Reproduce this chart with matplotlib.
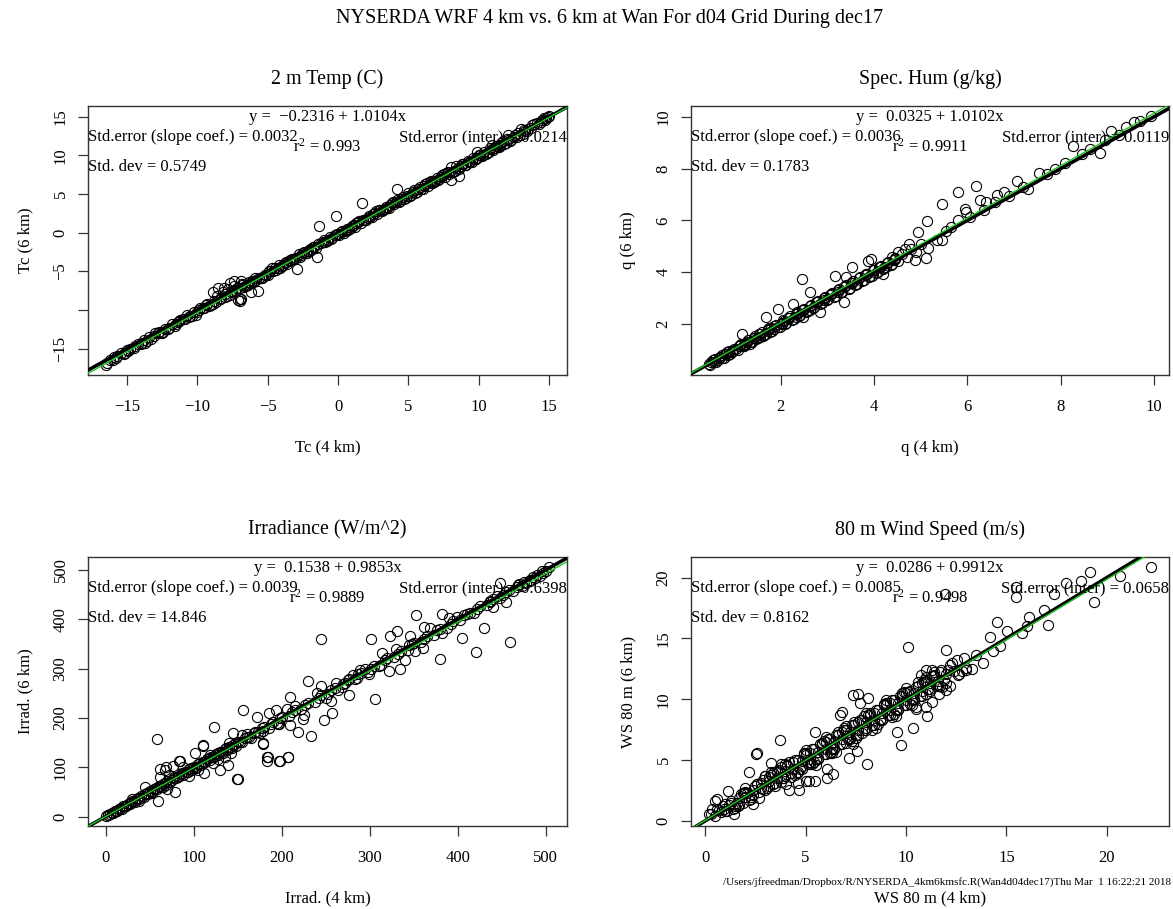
import matplotlib
matplotlib.use("Agg")
import matplotlib.pyplot as plt
from matplotlib.ticker import FixedLocator, FixedFormatter

plt.rcParams['font.family'] = ['Liberation Serif', 'DejaVu Serif']
plt.rcParams['mathtext.fontset'] = 'custom'
plt.rcParams['mathtext.rm'] = 'Liberation Serif'
plt.rcParams['mathtext.it'] = 'Liberation Serif:italic'
plt.rcParams['axes.unicode_minus'] = True

# ---------------------------------------------------------------- 2 m temperature (C)
temp_4km = [
    -16.5, -16.2, -16.0, -15.7, -15.4, -15.1, -14.8, -14.5, -14.2, -13.9,
    -13.6, -13.4, -13.1, -12.8, -12.5, -12.3, -12.0, -11.8, -11.5, -11.2,
    -11.0, -10.7, -10.5, -10.2, -10.0, -9.8, -9.5, -9.3, -9.0, -8.8,
    -8.6, -8.4, -8.2, -8.0, -7.8, -7.6, -7.4, -7.2, -7.0, -6.8,
    -8.9, -8.5, -8.1, -7.7, -7.4, -6.9, -6.8, -7.0, -7.0, -6.9,
    -7.1, -6.2, -5.7, -6.6, -6.4, -6.2, -6.0, -5.8, -5.6, -5.4,
    -5.2, -5.0, -4.8, -4.6, -4.4, -4.2, -4.0, -3.8, -3.6, -3.4,
    -3.2, -3.0, -2.8, -2.9, -2.6, -2.4, -2.2, -2.0, -1.8, -1.6,
    -1.5, -1.35, -1.2, -1.0, -0.8, -0.6, -0.4, -0.2, -0.16, 0.0,
    0.2, 0.4, 0.6, 0.8, 1.0, 1.2, 1.4, 1.6, 1.73, 1.8,
    2.0, 2.2, 2.4, 2.6, 2.8, 3.0, 3.2, 3.4, 3.6, 3.8,
    4.0, 4.2, 4.21, 4.4, 4.6, 4.8, 5.0, 5.2, 5.4, 5.6,
    5.8, 6.0, 6.2, 6.4, 6.6, 6.8, 7.0, 7.2, 7.4, 7.6,
    7.8, 8.0, 8.0, 8.2, 8.4, 8.58, 8.6, 8.8, 9.0, 9.2,
    9.4, 9.6, 9.8, 10.0, 10.2, 10.4, 10.6, 10.8, 11.0, 11.2,
    11.4, 11.6, 11.8, 12.0, 12.3, 12.6, 12.9, 13.2, 13.5, 13.8,
    14.1, 14.4, 14.6, 14.8, 15.0, 14.9, 13.0, 12.1, 9.9, 6.7,
    -15.9, -15.2, -14.4, -13.7, -13.0, -12.4, -11.6, -10.9, -10.1, -9.4,
    -8.7, -8.0, -7.3, -6.5, -5.9, -5.3, -4.7, -4.1, -3.5, -2.7,
    -2.1, -1.4, -0.7, 0.1, 0.7, 1.3, 2.1, 2.7, 3.3, 3.9,
    4.5, 5.1, 5.7, 6.3, 6.9, 7.5, 8.1, 8.7, 9.3, 9.9,
    10.5, 11.1, 11.7, 12.2, 12.8, 13.4, 13.9, 14.5, 10.9, 11.5,
    -16.4, -15.8, -15.0, -14.0, -13.3, -12.7, -12.1, -11.3, -10.6, -9.9,
    -9.2, -8.4, -7.9, -7.5, -6.7, -6.1, -5.5, -4.9, -4.3, -3.7,
    -3.1, -2.5, -1.9, -1.1, -0.5, 0.3, 0.9, 1.5, 2.3, 2.9,
    3.5, 4.1, 4.7, 5.3, 5.9, 6.5, 7.1, 7.7, 8.3, 8.9,
    9.5, 10.1, 10.7, 11.3, 11.9, 12.5, 13.1, 13.7, 14.3, 14.7,
    -14.9, -13.8, -12.6, -11.4, -10.4, -9.6, -8.9, -8.3, -7.7, -6.3,
    -5.1, -4.5, -3.9, -3.3, -2.3, -1.7, -0.9, -0.1, 0.5, 1.1,
    1.9, 2.5, 3.1, 3.7, 4.3, 4.9, 5.5, 6.1, 6.7, 7.3,
    7.9, 8.5, 9.1, 9.7, 10.3, 10.9, 11.5, 12.1, 12.7, 13.3,
]
temp_6km = [
    -17.1, -16.5, -16.4, -15.9, -15.6, -15.5, -15.0, -14.9, -14.4, -14.3,
    -14.0, -13.5, -13.4, -12.9, -12.9, -12.4, -12.3, -11.8, -11.8, -11.3,
    -11.1, -10.6, -10.8, -10.2, -10.3, -9.7, -9.7, -9.2, -9.3, -8.8,
    -8.2, -8.5, -7.7, -7.9, -7.3, -7.6, -6.9, -7.2, -7.1, -6.6,
    -7.6, -7.1, -7.1, -6.5, -6.3, -6.3, -6.7, -8.6, -8.8, -8.5,
    -8.7, -7.6, -7.5, -6.9, -6.7, -6.5, -6.3, -6.1, -5.9, -5.8,
    -5.5, -5.4, -5.0, -4.9, -4.8, -4.2, -4.3, -3.9, -4.1, -3.5,
    -3.4, -3.3, -2.8, -4.7, -2.9, -2.5, -2.6, -2.1, -1.8, -2.0,
    -3.1, 0.9, -1.3, -1.0, -1.1, -0.6, -0.7, -0.3, 2.2, -0.2,
    0.1, 0.0, 0.5, 0.5, 0.9, 0.8, 1.4, 1.3, 3.8, 1.7,
    1.7, 2.2, 2.0, 2.5, 2.4, 2.9, 3.0, 3.3, 3.2, 3.8,
    3.7, 4.2, 5.6, 4.1, 4.6, 4.5, 5.1, 4.9, 5.5, 5.3,
    5.9, 5.7, 6.3, 6.1, 6.7, 6.5, 7.1, 6.9, 7.5, 7.2,
    7.9, 8.5, 6.8, 8.0, 8.6, 7.4, 8.3, 8.9, 8.7, 9.3,
    9.2, 9.7, 9.5, 10.1, 9.9, 10.5, 10.3, 10.9, 10.7, 11.2,
    11.1, 11.6, 11.5, 12.1, 12.0, 12.7, 12.6, 13.3, 13.4, 13.9,
    14.2, 14.3, 14.9, 14.8, 15.1, 15.0, 13.4, 12.7, 10.5, 6.4,
    -16.1, -15.7, -14.6, -14.2, -13.0, -12.8, -12.0, -11.2, -10.6, -9.3,
    -9.0, -8.3, -7.4, -6.8, -5.8, -5.7, -4.6, -4.6, -3.6, -3.1,
    -2.4, -1.5, -0.9, -0.3, 0.4, 1.2, 1.9, 2.8, 3.1, 4.0,
    4.4, 4.8, 5.6, 6.4, 6.7, 7.6, 7.8, 8.6, 9.1, 9.7,
    10.2, 11.0, 11.8, 11.9, 12.9, 13.2, 14.0, 14.6, 11.3, 11.3,
    -16.8, -16.2, -15.1, -14.4, -13.7, -12.8, -12.4, -11.4, -10.9, -10.0,
    -9.5, -8.5, -8.2, -7.5, -7.0, -6.2, -5.8, -5.0, -4.6, -3.8,
    -3.4, -2.6, -2.2, -1.2, -0.8, 0.2, 0.6, 1.5, 2.0, 2.9,
    3.2, 4.0, 4.4, 5.3, 5.6, 6.5, 6.8, 7.7, 8.0, 8.9,
    9.2, 10.0, 10.4, 11.2, 11.6, 12.4, 12.8, 13.6, 14.0, 14.6,
    -15.3, -13.9, -12.9, -11.5, -10.7, -9.7, -9.2, -8.4, -8.0, -6.4,
    -5.4, -4.6, -4.2, -3.4, -2.6, -1.8, -1.2, -0.2, 0.2, 1.0,
    1.6, 2.4, 2.8, 3.6, 4.0, 4.8, 5.2, 6.0, 6.4, 7.2,
    7.6, 8.4, 8.8, 9.6, 10.0, 10.8, 11.2, 12.0, 12.4, 13.2,
]

# ---------------------------------------------------------------- specific humidity (g/kg)
q_4km = [
    0.46, 0.55, 0.62, 0.70, 0.78, 0.85, 0.92, 1.00, 1.08, 1.15,
    1.22, 1.30, 1.38, 1.45, 1.52, 1.60, 1.68, 1.75, 1.82, 1.90,
    1.98, 2.05, 2.12, 2.20, 2.28, 2.35, 2.42, 2.50, 2.58, 2.65,
    2.72, 2.80, 2.88, 2.95, 3.02, 3.10, 3.18, 3.25, 3.32, 3.40,
    3.48, 3.55, 3.62, 3.70, 3.78, 3.85, 3.92, 4.00, 4.08, 4.15,
    4.22, 4.30, 4.38, 4.45, 4.52, 4.60, 4.70, 4.80, 4.90, 5.00,
    0.50, 0.66, 0.80, 0.95, 1.12, 1.26, 1.42, 1.56, 1.72, 1.86,
    2.02, 2.16, 2.32, 2.46, 2.62, 2.76, 2.92, 3.06, 3.22, 3.36,
    1.18, 1.69, 1.94, 2.27, 2.45, 2.63, 2.85, 2.49, 3.16, 3.35,
    3.40, 3.54, 3.87, 3.94, 4.20, 4.38, 4.52, 4.67, 4.74, 4.87,
    4.95, 5.11, 5.14, 5.16, 5.36, 5.45, 5.45, 5.54, 5.80, 5.80,
    5.94, 5.98, 6.18, 6.27, 6.41, 6.63, 6.78, 7.07, 7.29, 7.54,
    7.87, 8.27, 8.63, 8.85, 9.07, 9.40, 9.58, 9.94, 5.65, 6.05,
    6.35, 6.60, 6.90, 7.20, 7.70, 8.10, 8.45, 8.95, 9.25, 9.70,
    3.50, 3.64, 3.80, 3.96, 4.10, 4.26, 4.42, 1.35, 1.62, 0.75,
    0.48, 0.58, 0.68, 0.74, 0.82, 0.88, 0.96, 1.04, 1.10, 1.20,
    1.28, 1.34, 1.42, 1.48, 1.56, 1.64, 1.72, 1.78, 1.86, 1.94,
    2.02, 2.10, 2.18, 2.24, 2.32, 2.40, 2.48, 2.54, 2.62, 2.70,
    2.78, 2.84, 2.92, 3.00, 3.08, 3.14, 3.22, 3.30, 3.38, 3.46,
    3.52, 3.60, 3.68, 3.74, 3.82, 3.90, 3.98, 4.04, 4.12, 4.20,
    4.28, 4.36, 4.44, 0.60, 0.90, 1.24, 1.54, 1.80, 2.08, 2.38,
]
q_6km = [
    0.45, 0.60, 0.55, 0.74, 0.70, 0.92, 0.85, 1.05, 1.00, 1.22,
    1.15, 1.40, 1.30, 1.55, 1.45, 1.68, 1.60, 1.85, 1.75, 1.95,
    1.90, 2.15, 2.05, 2.30, 2.20, 2.45, 2.35, 2.60, 2.50, 2.75,
    2.65, 2.90, 2.80, 3.05, 2.95, 3.20, 3.10, 3.35, 3.25, 3.50,
    3.40, 3.65, 3.55, 3.80, 3.70, 3.95, 3.85, 4.10, 4.00, 4.25,
    4.15, 4.40, 4.30, 4.55, 4.45, 4.70, 4.60, 4.90, 4.80, 5.10,
    0.52, 0.62, 0.86, 0.93, 1.18, 1.22, 1.48, 1.50, 1.80, 1.82,
    2.00, 2.25, 2.28, 2.55, 2.56, 2.84, 2.92, 3.12, 3.22, 3.45,
    1.61, 2.28, 2.58, 2.77, 3.74, 3.23, 2.45, 2.26, 3.87, 2.84,
    3.81, 4.19, 4.45, 4.52, 3.94, 4.58, 4.77, 4.90, 5.10, 4.48,
    5.57, 4.54, 5.96, 4.94, 5.23, 6.62, 5.23, 5.61, 7.10, 6.00,
    6.45, 6.32, 7.32, 6.80, 6.71, 6.99, 7.10, 7.51, 7.23, 7.83,
    8.00, 8.86, 8.74, 8.61, 9.46, 9.61, 9.79, 10.03, 5.75, 6.15,
    6.40, 6.70, 6.95, 7.30, 7.80, 8.20, 8.55, 9.10, 9.30, 9.85,
    3.60, 3.55, 3.90, 3.86, 4.20, 4.20, 4.46, 1.25, 1.55, 0.80,
    0.42, 0.55, 0.70, 0.68, 0.84, 0.80, 0.98, 1.02, 1.14, 1.16,
    1.32, 1.30, 1.46, 1.42, 1.62, 1.58, 1.76, 1.70, 1.92, 1.88,
    2.06, 2.02, 2.24, 2.16, 2.38, 2.32, 2.54, 2.46, 2.70, 2.62,
    2.86, 2.76, 3.00, 2.92, 3.16, 3.06, 3.30, 3.22, 3.46, 3.36,
    3.60, 3.50, 3.76, 3.66, 3.92, 3.82, 4.08, 3.96, 4.22, 4.12,
    4.36, 4.28, 4.50, 0.66, 0.96, 1.20, 1.60, 1.86, 2.12, 2.44,
]

# ---------------------------------------------------------------- irradiance (W/m^2)
irr_4km = [
    0, 2, 5, 8, 10, 13, 15, 18, 20, 23,
    25, 28, 30, 33, 35, 38, 40, 43, 45, 48,
    50, 53, 55, 58, 60, 63, 65, 68, 70, 73,
    75, 78, 80, 83, 85, 88, 90, 93, 95, 98,
    100, 103, 105, 108, 110, 113, 115, 118, 120, 123,
    125, 128, 130, 133, 135, 138, 140, 143, 145, 148,
    150, 155, 160, 165, 170, 175, 180, 185, 190, 195,
    200, 208, 215, 222, 230, 238, 245, 252, 260, 268,
    275, 283, 290, 298, 305, 313, 320, 328, 335, 343,
    350, 358, 365, 373, 380, 388, 395, 403, 410, 418,
    425, 433, 440, 448, 455, 463, 470, 478, 485, 493,
    500, 504, 497, 490, 482, 473, 467, 458, 445, 437,
    244.6, 58.6, 301.4, 352.9, 382.1, 459.0, 421.2, 379.4, 430.3, 404.9,
    306.3, 230.4, 155.7, 123.1, 149.6, 183.7, 196.7, 206.9, 183.0, 233.1,
    248.2, 257.0, 219.0, 209.6, 209.6, 178.5, 171.7, 196.7, 224.7, 275.9,
    264.5, 321.4, 333.9, 323.3, 331.0, 313.9, 340.4, 361.2, 360.9, 351.8,
    447.7, 440.1, 455.3, 414.3, 399.2, 389.6, 368.8, 382.1, 346.1, 344.2,
    288.4, 275.9, 298.6, 281.2, 255.8, 244.8, 193.6, 195.8, 206.5, 186.0,
    145.0, 179.2, 154.6, 110.9, 101.5, 83.6, 61.7, 68.5, 129.9, 138.5,
    76.8, 59.1, 150.4, 79.1, 84.3, 110.4, 179.1, 184.3, 198.3, 207.0,
    62, 67, 72, 65, 70, 45, 52, 38, 30, 88,
    95, 105, 112, 118, 122, 128, 135, 140, 142, 160,
    215, 225, 240, 250, 262, 270, 285, 295, 310, 330,
    3, 7, 12, 17, 22, 27, 32, 37, 42, 47,
    52, 57, 62, 67, 72, 77, 82, 87, 92, 97,
    102, 107, 112, 117, 122, 127, 132, 137, 142, 147,
    152, 158, 163, 168, 173, 178, 188, 198, 212, 226,
    242, 256, 272, 287, 302, 317, 332, 348, 362, 377,
    392, 407, 422, 437, 452, 468, 482, 496, 488, 475,
]
irr_6km = [
    1, 3, 6, 7, 11, 12, 16, 15, 21, 22,
    26, 25, 31, 30, 36, 35, 41, 40, 46, 45,
    51, 50, 56, 55, 61, 60, 66, 64, 72, 70,
    74, 80, 79, 82, 86, 85, 91, 90, 96, 95,
    101, 99, 106, 104, 111, 110, 116, 114, 121, 120,
    126, 124, 131, 129, 136, 134, 141, 139, 146, 144,
    151, 152, 161, 160, 171, 170, 181, 180, 191, 190,
    201, 204, 216, 218, 231, 233, 246, 248, 261, 263,
    276, 278, 291, 293, 306, 308, 321, 323, 336, 338,
    351, 353, 366, 368, 381, 383, 396, 398, 411, 413,
    426, 428, 441, 443, 456, 458, 471, 473, 486, 488,
    497, 506, 494, 490, 478, 468, 466, 460, 448, 435,
    359.7, 157.0, 359.7, 408.5, 410.5, 354.0, 333.9, 319.0, 382.7, 361.0,
    239.0, 274.9, 215.3, 181.4, 75.6, 113.6, 113.6, 120.3, 121.7, 162.4,
    194.9, 210.5, 171.2, 242.4, 184.7, 148.8, 201.7, 186.8, 198.3, 245.8,
    255.9, 295.3, 300.0, 366.4, 376.6, 331.9, 318.3, 383.4, 342.7, 336.0,
    472.9, 424.0, 435.6, 411.9, 405.1, 401.7, 381.4, 371.2, 365.8, 347.5,
    298.0, 278.3, 288.5, 286.4, 234.2, 264.1, 215.3, 188.1, 218.6, 209.8,
    169.2, 173.2, 164.4, 144.1, 128.5, 113.6, 96.6, 101.4, 94.6, 105.4,
    103.4, 32.4, 76.4, 50.7, 113.5, 143.9, 147.3, 121.6, 113.5, 120.3,
    80, 95, 85, 60, 55, 60, 48, 32, 35, 100,
    82, 95, 88, 125, 108, 116, 120, 150, 128, 168,
    225, 205, 250, 240, 270, 268, 280, 300, 305, 340,
    4, 8, 11, 18, 21, 28, 31, 38, 41, 48,
    51, 58, 61, 68, 71, 78, 81, 88, 91, 98,
    101, 108, 111, 118, 121, 128, 131, 138, 141, 148,
    151, 159, 162, 169, 172, 179, 187, 199, 211, 227,
    240, 257, 270, 288, 300, 318, 330, 349, 360, 378,
    390, 408, 420, 438, 450, 469, 480, 497, 484, 476,
]

# ---------------------------------------------------------------- 80 m wind speed (m/s)
ws_4km = [
    0.3, 0.5, 0.7, 0.9, 1.1, 1.3, 1.5, 1.7, 1.9, 2.1,
    2.3, 2.5, 2.7, 2.9, 3.1, 3.3, 3.5, 3.7, 3.9, 4.1,
    4.3, 4.5, 4.7, 4.9, 5.1, 5.3, 5.5, 5.7, 5.9, 6.1,
    6.3, 6.5, 6.7, 6.9, 7.1, 7.3, 7.5, 7.7, 7.9, 8.1,
    8.3, 8.5, 8.7, 8.9, 9.1, 9.3, 9.5, 9.7, 9.9, 10.1,
    10.3, 10.5, 10.7, 10.9, 11.1, 11.3, 11.5, 11.7, 11.9, 12.1,
    0.8, 1.2, 1.6, 2.0, 2.4, 2.8, 3.2, 3.6, 4.0, 4.4,
    4.8, 5.2, 5.6, 6.0, 6.4, 6.8, 7.2, 7.6, 8.0, 8.4,
    8.8, 9.2, 9.6, 10.0, 10.4, 10.8, 11.2, 11.6, 12.0, 12.4,
    1.0, 1.4, 1.8, 2.2, 2.6, 3.0, 3.4, 3.8, 4.2, 4.6,
    5.0, 5.4, 5.8, 6.2, 6.6, 7.0, 7.4, 7.8, 8.2, 8.6,
    9.0, 9.4, 9.8, 10.2, 10.6, 11.0, 11.4, 11.8, 12.2, 12.6,
    3.0, 3.5, 4.0, 4.5, 5.0, 5.5, 6.0, 6.5, 7.0, 7.5,
    8.0, 8.5, 9.0, 9.5, 10.0, 10.5, 11.0, 2.0, 2.7, 3.3,
    10.09, 11.99, 14.54, 15.01, 14.16, 15.77, 16.11, 16.02, 16.87, 17.09,
    15.48, 15.48, 17.38, 17.97, 18.70, 19.16, 19.38, 20.65, 22.21, 11.95,
    12.55, 12.97, 12.63, 13.30, 13.82, 14.33, 14.67, 7.63, 7.38, 8.09,
    7.72, 3.73, 2.54, 6.70, 6.82, 5.46, 8.05, 7.17, 9.75, 10.34,
    9.53, 11.07, 11.02, 10.51, 11.28, 11.62, 11.99, 12.21, 11.28, 11.75,
    11.02, 10.73, 6.39, 6.05, 5.48, 6.05, 4.58, 5.17, 7.55, 7.38,
    6.27, 4.69, 4.18, 4.04, 4.64, 2.36, 2.18, 2.58, 1.13, 1.42,
    0.18, 0.51, 0.36, 0.58, 0.95, 1.64, 1.96, 3.78, 3.27, 3.00,
    5.24, 5.00, 12.9, 13.5, 13.0, 12.3, 12.0, 11.4, 11.7, 12.8,
    0.6, 1.0, 1.3, 1.7, 2.0, 2.3, 2.6, 2.9, 3.2, 3.4,
    3.6, 3.9, 4.1, 4.3, 4.6, 4.8, 5.0, 5.2, 5.4, 5.6,
    5.8, 6.0, 6.2, 6.4, 6.6, 6.8, 7.0, 7.2, 7.4, 7.6,
    7.8, 8.0, 8.2, 8.4, 8.6, 8.8, 9.0, 9.2, 9.4, 9.6,
    9.8, 10.0, 10.2, 10.4, 10.6, 10.8, 11.0, 11.2, 11.4, 11.6,
    1.5, 1.9, 2.4, 2.8, 3.2, 3.6, 4.0, 4.4, 4.8, 5.2,
    5.6, 6.0, 6.4, 6.8, 7.2, 7.6, 8.0, 8.4, 8.8, 9.2,
    9.6, 10.0, 10.4, 10.8, 11.2, 3.8, 4.3, 4.9, 5.3, 5.9,
    6.3, 6.9, 7.3, 7.9, 8.3, 8.9, 9.3, 9.9, 10.3, 10.9,
]
ws_6km = [
    0.6, 0.4, 0.9, 1.2, 0.8, 1.5, 1.1, 1.9, 1.5, 2.3,
    1.8, 2.9, 2.4, 3.4, 2.7, 3.8, 3.1, 4.2, 3.5, 4.6,
    3.9, 5.0, 4.3, 5.5, 4.7, 5.9, 5.1, 6.3, 5.5, 6.7,
    5.9, 7.1, 6.3, 7.5, 6.7, 7.9, 7.1, 8.3, 7.5, 8.7,
    7.9, 9.1, 8.3, 9.5, 8.7, 9.9, 9.1, 10.3, 9.5, 10.6,
    9.9, 11.0, 10.3, 11.4, 10.8, 11.9, 11.1, 12.2, 11.6, 12.4,
    0.7, 1.3, 1.5, 2.0, 2.5, 2.7, 3.3, 3.5, 4.1, 4.3,
    4.9, 5.1, 5.7, 5.9, 6.5, 6.7, 7.3, 7.5, 8.1, 8.3,
    8.9, 9.1, 9.7, 9.9, 10.5, 10.7, 11.3, 11.5, 12.1, 12.3,
    1.4, 1.0, 2.2, 1.7, 3.0, 2.5, 3.9, 3.2, 4.8, 4.0,
    5.6, 4.8, 6.4, 5.6, 7.3, 6.4, 8.1, 7.2, 8.9, 8.0,
    9.7, 8.8, 10.5, 9.6, 11.4, 10.4, 12.0, 11.0, 12.8, 12.0,
    3.7, 2.9, 4.7, 3.8, 5.8, 4.6, 6.9, 5.7, 7.8, 6.8,
    8.9, 7.6, 9.9, 8.6, 10.9, 9.4, 11.8, 2.7, 1.9, 4.0,
    14.28, 14.06, 16.38, 15.64, 15.15, 15.42, 16.78, 15.99, 17.33, 16.13,
    18.42, 19.24, 18.64, 19.59, 19.73, 20.46, 17.96, 20.14, 20.87, 18.64,
    13.19, 12.37, 12.10, 12.50, 13.00, 14.00, 14.41, 10.46, 10.38, 10.10,
    9.73, 6.65, 5.53, 8.69, 8.96, 7.28, 4.66, 5.20, 6.24, 7.60,
    7.28, 8.61, 9.37, 9.18, 9.78, 10.41, 10.79, 11.06, 12.43, 12.43,
    12.37, 11.96, 3.84, 3.52, 3.30, 4.29, 3.92, 3.24, 5.75, 6.29,
    5.64, 2.57, 2.57, 3.03, 3.11, 1.41, 4.00, 5.54, 2.49, 0.54,
    0.59, 1.62, 0.95, 1.76, 0.95, 1.22, 2.30, 4.65, 4.73, 3.65,
    4.81, 3.24, 13.4, 13.6, 12.6, 13.0, 11.3, 12.2, 11.1, 12.3,
    1.0, 0.8, 1.6, 1.3, 2.4, 2.0, 3.0, 2.6, 3.6, 3.0,
    4.1, 3.5, 4.5, 3.9, 5.0, 4.3, 5.4, 4.7, 5.9, 5.1,
    6.3, 5.5, 6.7, 5.9, 7.1, 6.3, 7.5, 6.7, 7.9, 7.1,
    8.3, 7.5, 8.7, 7.9, 9.1, 8.3, 9.5, 8.7, 9.9, 9.1,
    10.3, 9.5, 10.7, 9.9, 11.1, 10.3, 11.5, 10.7, 11.9, 11.1,
    1.2, 2.3, 2.1, 3.1, 2.9, 4.0, 3.7, 4.8, 4.5, 5.6,
    5.2, 6.5, 6.0, 7.3, 6.8, 8.1, 7.6, 8.9, 8.4, 9.7,
    9.2, 10.5, 10.0, 11.3, 10.8, 4.4, 3.6, 5.6, 4.7, 6.6,
    5.6, 7.6, 6.6, 8.6, 7.5, 9.6, 8.5, 10.6, 9.5, 11.6,
]

# ---------------------------------------------------------------- panel text and fit statistics
panel_titles = ["2 m Temp (C)", "Spec. Hum (g/kg)", "Irradiance (W/m^2)", "80 m Wind Speed (m/s)"]
x_labels = ["Tc (4 km)", "q (4 km)", "Irrad. (4 km)", "WS 80 m (4 km)"]
y_labels = ["Tc (6 km)", "q (6 km)", "Irrad. (6 km)", "WS 80 m (6 km)"]
fit_intercepts = [-0.2316, 0.0325, 0.1538, 0.0286]
fit_slopes = [1.0104, 1.0102, 0.9853, 0.9912]
stderr_slope = ["0.0032", "0.0036", "0.0039", "0.0085"]
stderr_inter = ["0.0214", "0.0119", "0.6398", "0.0658"]
r_squared = ["0.993", "0.9911", "0.9889", "0.9498"]
std_devs = ["0.5749", "0.1783", "14.846", "0.8162"]

x_ticks = [[-15, -10, -5, 0, 5, 10, 15], [2, 4, 6, 8, 10],
           [0, 100, 200, 300, 400, 500], [0, 5, 10, 15, 20]]
x_tick_labels = [["\u221215", "\u221210", "\u22125", "0", "5", "10", "15"],
                 ["2", "4", "6", "8", "10"],
                 ["0", "100", "200", "300", "400", "500"],
                 ["0", "5", "10", "15", "20"]]
y_ticks = [[-15, -10, -5, 0, 5, 10, 15], [2, 4, 6, 8, 10],
           [0, 100, 200, 300, 400, 500], [0, 5, 10, 15, 20]]
# the -10 label on the temperature axis is dropped, as the device had no room for it
y_tick_labels = [["\u221215", "", "\u22125", "0", "5", "10", "15"],
                 ["2", "4", "6", "8", "10"],
                 ["0", "100", "200", "300", "400", "500"],
                 ["0", "5", "10", "15", "20"]]

main_title = "NYSERDA WRF 4 km vs. 6 km at Wan For d04 Grid During dec17"
footnote = "/Users/jfreedman/Dropbox/R/NYSERDA_4km6kmsfc.R(Wan4d04dec17)Thu Mar  1 16:22:21 2018"

xs = [temp_4km, q_4km, irr_4km, ws_4km]
ys = [temp_6km, q_6km, irr_6km, ws_6km]

# ---------------------------------------------------------------- figure
W, H = 1173, 909
fig = plt.figure(figsize=(W / 100, H / 100), dpi=100)

# axes boxes in pixels: (left, top, right, bottom)
boxes = [(88, 106, 567, 375), (691, 106, 1169, 375),
         (88, 557, 567, 826), (691, 557, 1169, 826)]

def fmt_num(v):
    s = f"{v:.4f}"
    return s.replace("-", "\u2212")

for i in range(4):
    l, t, r, b = boxes[i]
    ax = fig.add_axes([l / W, 1 - b / H, (r - l) / W, (b - t) / H])
    x, y = xs[i], ys[i]

    # R-style 4 % padding around the data range
    xlo, xhi = min(x), max(x)
    ylo, yhi = min(y), max(y)
    px, py = 0.04 * (xhi - xlo), 0.04 * (yhi - ylo)
    ax.set_xlim(xlo - px, xhi + px)
    ax.set_ylim(ylo - py, yhi + py)

    ax.plot(x, y, linestyle="none", marker="o", markersize=7.3,
            markerfacecolor="none", markeredgecolor="black", markeredgewidth=0.8,
            zorder=2)
    # 1:1 reference line and least-squares fit
    ax.axline((0, 0), slope=1.0, color="black", linewidth=2.6, zorder=3)
    ax.axline((0, fit_intercepts[i]), slope=fit_slopes[i], color="#1ec81e",
              linewidth=1.0, zorder=4)

    ax.xaxis.set_major_locator(FixedLocator(x_ticks[i]))
    ax.xaxis.set_major_formatter(FixedFormatter(x_tick_labels[i]))
    ax.yaxis.set_major_locator(FixedLocator(y_ticks[i]))
    ax.yaxis.set_major_formatter(FixedFormatter(y_tick_labels[i]))
    ax.tick_params(axis="both", direction="out", length=7, width=0.9,
                   labelsize=12, color="#333333")
    ax.tick_params(axis="x", pad=10)
    ax.tick_params(axis="y", pad=7)
    for lab in ax.get_yticklabels():
        lab.set_rotation(90)
        lab.set_verticalalignment("center")
    for sp in ax.spines.values():
        sp.set_linewidth(1.0)
        sp.set_color("#333333")

    ax.set_title(panel_titles[i], fontsize=14.4, pad=16)
    ax.set_xlabel(x_labels[i], fontsize=12)
    ax.set_ylabel(y_labels[i], fontsize=12)
    ax.xaxis.set_label_coords(0.5, -0.24)
    ax.yaxis.set_label_coords(-0.115, 0.5)

    a, s = fit_intercepts[i], fit_slopes[i]
    eq = f"y =  {fmt_num(a)} + {s:.4f}x"
    ax.text(0.5, 0.958, eq, transform=ax.transAxes, ha="center", va="center",
            fontsize=12, zorder=5)
    ax.text(0.0, 0.885, f"Std.error (slope coef.) = {stderr_slope[i]}",
            transform=ax.transAxes, ha="left", va="center", fontsize=12, zorder=5)
    ax.text(1.0, 0.885, f"Std.error (inter) = {stderr_inter[i]}",
            transform=ax.transAxes, ha="right", va="center", fontsize=12, zorder=5)
    ax.text(0.5, 0.849, r"$\mathrm{r}^{2}$" + f" = {r_squared[i]}",
            transform=ax.transAxes, ha="center", va="center", fontsize=12, zorder=5)
    ax.text(0.0, 0.775, f"Std. dev = {std_devs[i]}", transform=ax.transAxes,
            ha="left", va="center", fontsize=12, zorder=5)

fig.text(610 / W, 1 - 18 / H, main_title, ha="center", va="center", fontsize=14.5)
fig.text(1171 / W, 1 - 882 / H, footnote, ha="right", va="center", fontsize=8)

fig.savefig("out.png", dpi=100)
